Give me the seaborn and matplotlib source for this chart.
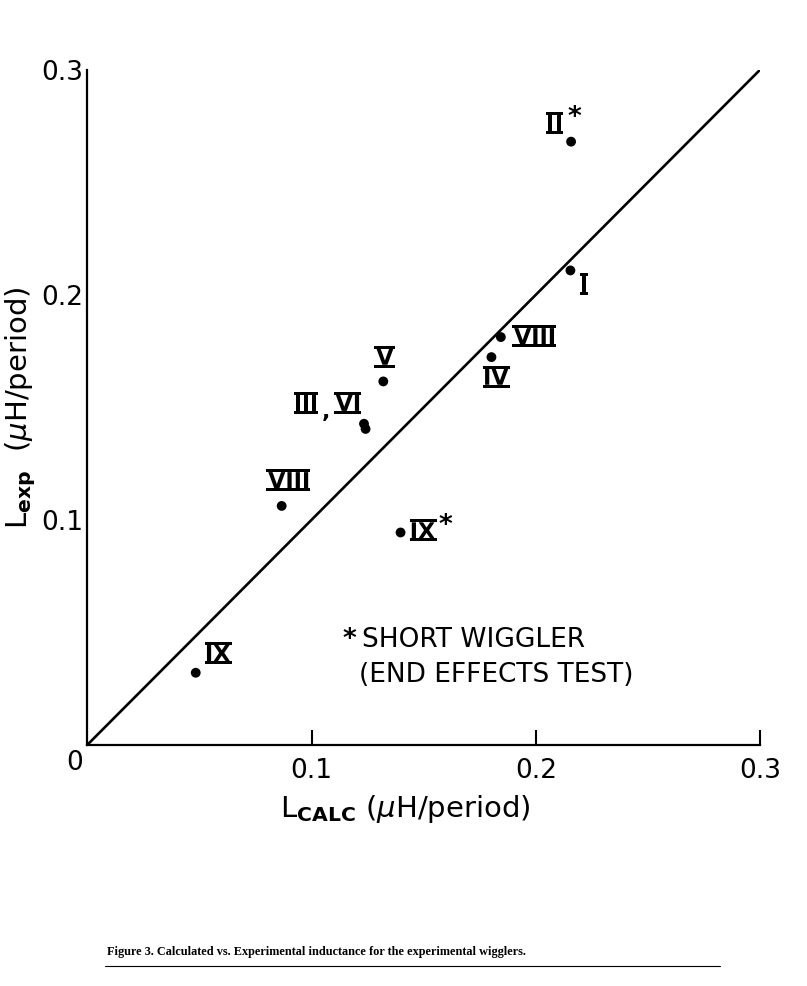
import numpy as np
import pandas as pd
import seaborn as sns
import matplotlib.pyplot as plt
from matplotlib.patheffects import AbstractPathEffect
from matplotlib.lines import Line2D
from matplotlib.path import Path
from matplotlib.transforms import Affine2D
from matplotlib.ticker import FixedLocator

# calculated vs experimental inductance (uH/period)
l_calc = [0.2157, 0.2154, 0.1844, 0.1802, 0.1320, 0.1234, 0.1241, 0.0867, 0.1397, 0.0484]
l_exp = [0.268, 0.2108, 0.1812, 0.1723, 0.1615, 0.1427, 0.1404, 0.1062, 0.0944, 0.0321]
wiggler = ["II", "I", "VIII", "IV", "V", "III", "VI", "VIII", "IX", "IX"]
short = [True, False, False, False, False, False, False, False, True, False]
diag = [0.0, 0.3]
ticks = [0.1, 0.2, 0.3]
tick_labels = ["0.1", "0.2", "0.3"]

# label offsets (points) from each dot
lab_off = [(-12, 12), (9.6, -11), (24.5, -0.9), (3.1, -15.6), (1.2, 16.3),
           (-42, 13.7), (-12.4, 17.3), (5.3, 17), (15.7, 0), (15.7, 12.7)]
star_off = {0: (2.4, 17), 8: (32.6, 5)}


class Barred(AbstractPathEffect):
    # roman numerals with a bar on top and bottom, drafting style
    def __init__(self, thick=3.0, ext=2.0):
        super().__init__()
        self.thick = thick
        self.ext = ext

    def draw_path(self, renderer, gc, tpath, affine, rgbFace=None):
        renderer.draw_path(gc, tpath, affine, rgbFace)
        bb = tpath.get_extents(affine)
        t, e = self.thick, self.ext
        for yb in (bb.y0 - t, bb.y1):
            rect = Path([[bb.x0 - e, yb], [bb.x1 + e, yb], [bb.x1 + e, yb + t],
                         [bb.x0 - e, yb + t], [bb.x0 - e, yb]], closed=True)
            renderer.draw_path(gc, rect, Affine2D(), rgbFace)


df = pd.DataFrame({"l_calc": l_calc, "l_exp": l_exp, "wiggler": wiggler, "short": short})

sns.set_style("ticks")
plt.rcParams['font.family'] = ['DejaVu Sans']
plt.rcParams['mathtext.fontset'] = 'dejavusans'
for k in ["text.color", "axes.labelcolor", "xtick.color", "ytick.color", "axes.edgecolor"]:
    plt.rcParams[k] = "black"

fig = plt.figure(figsize=(8.07, 9.86), dpi=100)
ax = fig.add_axes([0.108, 0.2444, 0.834, 0.685])

sns.lineplot(x=diag, y=diag, color="black", lw=1.9, ax=ax)
sns.scatterplot(data=df, x="l_calc", y="l_exp", color="black", s=50,
                edgecolor="none", ax=ax, legend=False, clip_on=False, zorder=3)

for i, row in df.iterrows():
    ax.annotate(row["wiggler"], xy=(row["l_calc"], row["l_exp"]), xytext=lab_off[i],
                textcoords="offset points", ha="center", va="center",
                fontsize=16, fontweight="bold", path_effects=[Barred()])
    if row["short"]:
        ax.annotate("*", xy=(row["l_calc"], row["l_exp"]), xytext=star_off[i],
                    textcoords="offset points", ha="center", va="center",
                    fontsize=19, fontweight="bold")
# comma between III and VI
ax.annotate(",", xy=(l_calc[5], l_exp[5]), xytext=(-27.4, 8.6), textcoords="offset points",
            ha="center", va="center", fontsize=16, fontweight="bold")

# footnote for starred points
ax.text(0.114, 0.0467, "*", fontsize=19, fontweight="bold", ha="left", va="center")
ax.text(0.1225, 0.0467, "SHORT WIGGLER", fontsize=19, ha="left", va="center")
ax.text(0.121, 0.0311, "(END EFFECTS TEST)", fontsize=19, ha="left", va="center")

ax.set_xlim(0, 0.3)
ax.set_ylim(0, 0.3)
ax.set_xticks(ticks)
ax.set_xticklabels(tick_labels)
ax.set_yticks(ticks)
ax.set_yticklabels(tick_labels)
ax.tick_params(axis="x", direction="in", length=11, width=1.5, labelsize=19, pad=9)
ax.tick_params(axis="y", which="major", length=0, labelsize=19, pad=3)
ax.yaxis.set_minor_locator(FixedLocator([0.3]))
ax.tick_params(axis="y", which="minor", direction="in", length=12, width=1.5)
ax.annotate("0", xy=(0, 0), xytext=(-9, -13), textcoords="offset points",
            ha="center", va="center", fontsize=19)

sns.despine(ax=ax)
for s in ["left", "bottom"]:
    ax.spines[s].set_linewidth(1.6)

ax.set_xlabel(r"L$_{\mathbf{CALC}}$ ($\mu$H/period)", fontsize=21)
ax.set_ylabel(r"L$_{\mathbf{exp}}$  ($\mu$H/period)", fontsize=21)
ax.xaxis.set_label_coords(0.473, -0.071)
ax.yaxis.set_label_coords(-0.073, 0.5)

fig.text(0.1326, 0.031, "Figure 3. Calculated vs. Experimental inductance for the experimental wigglers.",
         fontsize=8.8, fontweight="bold", family="Liberation Serif", ha="left", va="baseline")
fig.add_artist(Line2D([0.13, 0.892], [0.0203, 0.0203], transform=fig.transFigure,
                      color="black", lw=0.8))

fig.savefig("out.png", dpi=100, facecolor="white")
